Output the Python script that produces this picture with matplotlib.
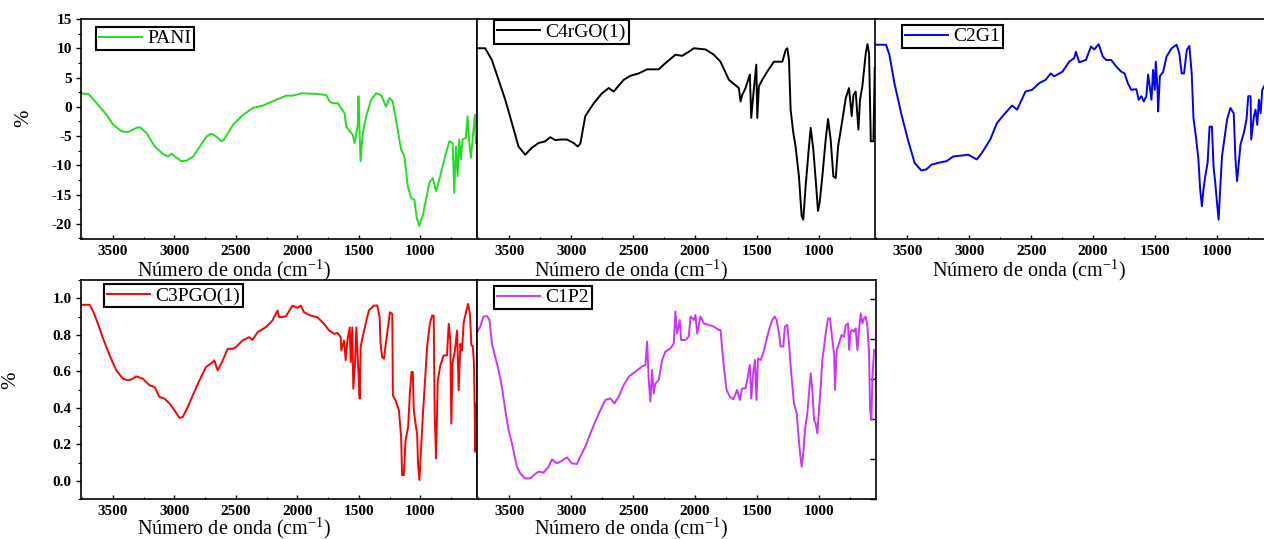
import numpy as np
import matplotlib
matplotlib.use('Agg')
import matplotlib.pyplot as plt
from matplotlib.ticker import MultipleLocator, FormatStrFormatter

plt.rcParams['font.family'] = ['Liberation Serif', 'DejaVu Serif']
plt.rcParams['axes.unicode_minus'] = False
plt.rcParams['mathtext.fontset'] = 'custom'
plt.rcParams['mathtext.rm'] = 'Liberation Serif'
plt.rcParams['mathtext.default'] = 'regular'

# ---- data (wavenumber cm-1, value) ----
pani_wn = [3760, 3700, 3632, 3551, 3497, 3430, 3376, 3308, 3281, 3227, 3159, 3092, 3051, 3024, 2997,
           2943, 2902, 2848, 2794, 2740, 2700, 2659, 2619, 2600, 2524, 2443, 2362, 2281, 2172, 2091,
           2037, 1969, 1847, 1766, 1739, 1712, 1671, 1617, 1604, 1550, 1536, 1509, 1504, 1487, 1469,
           1441, 1401, 1360, 1320, 1279, 1252, 1225, 1185, 1157, 1130, 1103, 1076, 1049, 1030, 1009,
           982, 955, 928, 900, 873, 846, 806, 765, 738, 725, 711, 698, 684, 671, 657, 630, 617, 603,
           589, 576, 557, 549]
pani_y = [2.27, 2.2, 0.6, -1.4, -3.1, -4.2, -4.3, -3.6, -3.5, -4.5, -6.8, -8.1, -8.5, -8.0, -8.5,
          -9.3, -9.2, -8.5, -6.8, -5.1, -4.6, -5.1, -5.9, -5.7, -3.1, -1.4, -0.2, 0.2, 1.2, 1.9,
          1.9, 2.3, 2.2, 2.0, 0.9, 0.6, 0.6, -1.1, -3.4, -4.8, -6.2, -3.1, 1.8, -9.3, -4.5,
          -1.6, 1.2, 2.3, 2.0, 0.0, 1.5, 0.9, -3.9, -7.3, -8.5, -13.6, -15.6, -15.9, -19.0, -20.4,
          -18.7, -15.9, -13.0, -12.2, -14.4, -12.4, -9.0, -5.9, -6.2, -14.7, -6.8, -11.9, -5.6, -9.0,
          -5.6, -5.3, -1.6, -6.2, -8.7, -5.6, -1.4, -6.2]

c4rgo_wn = [3756, 3694, 3640, 3586, 3532, 3478, 3425, 3371, 3317, 3263, 3209, 3169, 3128, 3088, 3034,
            2980, 2948, 2926, 2886, 2818, 2751, 2697, 2657, 2576, 2522, 2455, 2387, 2293, 2253, 2159,
            2105, 2051, 2010, 1916, 1849, 1795, 1727, 1647, 1633, 1620, 1593, 1558, 1547, 1525, 1506,
            1498, 1485, 1458, 1418, 1364, 1296, 1269, 1256, 1242, 1229, 1207, 1189, 1162, 1140, 1127,
            1108, 1081, 1067, 1046, 1027, 1008, 995, 973, 946, 927, 906, 884, 865, 846, 811, 784, 758,
            736, 722, 704, 682, 669, 650, 623, 609, 596, 582, 561, 550]
c4rgo_y = [10.0, 10.0, 8.0, 4.6, 1.2, -2.8, -6.8, -8.2, -7.0, -6.2, -5.9, -5.2, -5.7, -5.6, -5.6,
           -6.2, -6.8, -6.3, -1.6, 0.6, 2.3, 3.2, 2.6, 4.6, 5.3, 5.7, 6.4, 6.4, 7.2, 8.9,
           8.7, 9.4, 10.0, 9.8, 8.9, 7.7, 4.6, 3.2, 0.9, 2.0, 3.2, 5.5, -1.9, 3.2, 7.2,
           -1.9, 3.5, 4.6, 6.0, 7.7, 7.7, 9.7, 10.0, 8.0, -0.5, -4.5, -6.8, -11.9, -18.7, -19.3,
           -13.6, -6.8, -3.6, -7.3, -12.4, -17.8, -16.4, -11.9, -5.6, -2.1, -5.6, -11.9, -12.2, -6.8,
           -2.2, 1.5, 3.2, -1.6, 2.0, 2.6, -3.9, 1.2, 3.5, 9.1, 10.7, 9.1, -5.9, -5.9, 6.6]

c2g1_wn = [3752, 3671, 3644, 3603, 3549, 3495, 3440, 3386, 3345, 3305, 3251, 3183, 3129, 3088, 3007,
           2939, 2898, 2830, 2776, 2722, 2654, 2613, 2546, 2492, 2437, 2383, 2342, 2315, 2247, 2193,
           2153, 2139, 2112, 2058, 2017, 1990, 1955, 1922, 1895, 1854, 1814, 1773, 1746, 1719, 1692,
           1651, 1632, 1610, 1591, 1570, 1556, 1543, 1529, 1516, 1502, 1494, 1480, 1475, 1461, 1434,
           1407, 1366, 1326, 1304, 1285, 1266, 1244, 1223, 1204, 1190, 1169, 1150, 1136, 1122, 1109,
           1095, 1076, 1060, 1041, 1028, 1014, 1000, 987, 973, 960, 941, 919, 892, 865, 851, 838,
           824, 811, 784, 762, 748, 729, 724, 702, 689, 675, 662, 648, 635, 607, 589, 575]
c2g1_y = [10.6, 10.6, 8.9, 4.0, -1.1, -5.6, -9.6, -10.9, -10.7, -9.9, -9.6, -9.3, -8.5, -8.4, -8.2,
          -9.0, -7.9, -5.6, -2.8, -1.4, 0.2, -0.5, 2.6, 2.9, 4.0, 4.6, 5.7, 5.2, 6.0, 7.7,
          8.3, 9.4, 7.6, 8.0, 10.3, 9.8, 10.7, 8.6, 8.0, 8.0, 6.9, 6.0, 5.7, 4.0, 2.9,
          3.0, 1.2, 1.8, 0.9, 1.8, 5.5, 3.5, 1.2, 6.3, 2.9, 7.7, 2.9, -0.8, 5.2, 6.0,
          8.6, 10.0, 10.6, 9.1, 5.7, 5.7, 9.7, 10.4, 5.7, -1.9, -5.3, -9.0, -14.1, -17.0, -14.1,
          -11.9, -9.6, -3.4, -3.4, -10.2, -13.0, -16.4, -19.3, -13.6, -8.5, -5.6, -2.2, -0.2, -1.1, -9.0, -12.7,
          -9.6, -6.5, -4.5, -2.2, 1.8, 1.8, -5.6, -1.6, -0.5, -3.1, 1.2, -1.1, 2.9, 4.0, 4.0, 4.3]

c3pgo_wn = [3762, 3689, 3662, 3622, 3581, 3527, 3473, 3419, 3378, 3338, 3311, 3257, 3203, 3162, 3122,
            3081, 3040, 3000, 2959, 2932, 2892, 2851, 2797, 2743, 2689, 2676, 2649, 2613, 2567, 2527,
            2500, 2446, 2392, 2365, 2324, 2257, 2203, 2162, 2149, 2095, 2040, 2000, 1973, 1946, 1892,
            1838, 1784, 1743, 1702, 1675, 1648, 1643, 1621, 1608, 1594, 1575, 1567, 1554, 1546, 1532,
            1521, 1505, 1494, 1486, 1473, 1446, 1419, 1378, 1351, 1332, 1324, 1311, 1297, 1278, 1262,
            1248, 1229, 1224, 1202, 1175, 1157, 1149, 1135, 1121, 1100, 1086, 1073, 1062, 1054, 1040,
            1027, 1019, 1008, 994, 981, 965, 946, 924, 905, 892, 884, 873, 859, 838, 811, 784, 770,
            757, 749, 738, 721, 702, 689, 675, 662, 648, 629, 613, 597, 586, 575, 565, 554, 546]
c3pgo_y = [0.964, 0.964, 0.93, 0.86, 0.78, 0.687, 0.605, 0.559, 0.55, 0.559, 0.572, 0.559, 0.523, 0.514, 0.459,
           0.45, 0.423, 0.386, 0.344, 0.35, 0.404, 0.468, 0.55, 0.623, 0.65, 0.66, 0.605, 0.65, 0.723, 0.723,
           0.732, 0.769, 0.787, 0.772, 0.814, 0.842, 0.878, 0.933, 0.896, 0.9, 0.96, 0.947, 0.96, 0.923, 0.905,
           0.896, 0.86, 0.823, 0.805, 0.81, 0.787, 0.714, 0.769, 0.66, 0.769, 0.84, 0.65, 0.84, 0.505, 0.641,
           0.84, 0.605, 0.45, 0.732, 0.778, 0.86, 0.933, 0.96, 0.96, 0.896, 0.75, 0.678, 0.668, 0.769, 0.85,
           0.923, 0.914, 0.468, 0.44, 0.386, 0.24, 0.031, 0.031, 0.222, 0.295, 0.477, 0.596, 0.596, 0.386, 0.313,
           0.259, 0.086, 0.004, 0.186, 0.35, 0.523, 0.732, 0.86, 0.905, 0.905, 0.368, 0.122, 0.55, 0.632, 0.687, 0.687, 0.86,
           0.769, 0.313, 0.65, 0.705, 0.823, 0.495, 0.75, 0.714, 0.869, 0.923, 0.969, 0.914, 0.741, 0.741, 0.65, 0.158, 0.423]

c1p2_wn = [3756, 3734, 3707, 3680, 3659, 3640, 3613, 3586, 3559, 3532, 3505, 3478, 3438, 3411, 3371,
           3330, 3290, 3263, 3223, 3182, 3155, 3115, 3074, 3034, 2994, 2953, 2926, 2886, 2845, 2805,
           2764, 2724, 2684, 2651, 2616, 2576, 2535, 2482, 2428, 2401, 2387, 2374, 2361, 2347, 2334,
           2320, 2293, 2266, 2240, 2199, 2172, 2159, 2145, 2124, 2113, 2078, 2051, 2037, 2010, 1997,
           1983, 1956, 1929, 1889, 1849, 1808, 1795, 1768, 1746, 1720, 1692, 1661, 1639, 1620, 1593,
           1579, 1558, 1547, 1531, 1517, 1504, 1493, 1471, 1450, 1431, 1404, 1377, 1358, 1342, 1323,
           1310, 1288, 1275, 1256, 1242, 1224, 1202, 1180, 1167, 1153, 1140, 1127, 1113, 1094, 1081,
           1067, 1054, 1040, 1027, 1013, 1000, 986, 973, 946, 927, 911, 898, 878, 871, 857, 838, 819,
           798, 784, 766, 757, 744, 731, 717, 704, 690, 677, 663, 650, 636, 623, 609, 596, 588, 577, 569, 555]
c1p2_y = [0.837, 0.862, 0.912, 0.915, 0.895, 0.778, 0.712, 0.645, 0.562, 0.445, 0.345, 0.278, 0.162, 0.128, 0.103,
          0.103, 0.125, 0.137, 0.132, 0.162, 0.198, 0.178, 0.192, 0.208, 0.178, 0.175, 0.212, 0.262, 0.328, 0.387,
          0.445, 0.495, 0.503, 0.478, 0.512, 0.57, 0.612, 0.637, 0.662, 0.67, 0.787, 0.595, 0.487, 0.645, 0.528,
          0.578, 0.595, 0.695, 0.737, 0.753, 0.778, 0.937, 0.828, 0.895, 0.795, 0.795, 0.812, 0.912, 0.895, 0.92,
          0.828, 0.912, 0.878, 0.87, 0.862, 0.845, 0.845, 0.662, 0.545, 0.512, 0.498, 0.545, 0.495, 0.553, 0.553,
          0.595, 0.67, 0.503, 0.628, 0.695, 0.495, 0.703, 0.695, 0.728, 0.778, 0.845, 0.895, 0.912, 0.895, 0.828,
          0.762, 0.762, 0.862, 0.87, 0.778, 0.628, 0.478, 0.428, 0.328, 0.228, 0.162, 0.228, 0.345, 0.428, 0.528,
          0.628, 0.545, 0.395, 0.378, 0.328, 0.445, 0.562, 0.695, 0.828, 0.903, 0.903, 0.828, 0.72, 0.545, 0.745, 0.778, 0.82,
          0.812, 0.87, 0.878, 0.745, 0.837, 0.845, 0.837, 0.853, 0.745, 0.845, 0.928, 0.878, 0.903, 0.912, 0.862, 0.728, 0.445, 0.395, 0.612, 0.745]

xlabel = 'Número de onda (cm$^{-1}$)'

W, H = 1264, 539
fig = plt.figure(figsize=(W / 100, H / 100), dpi=100)


def add_ax(x0, x1, ytop, ybot):
    return fig.add_axes([x0 / W, (H - ybot) / H, (x1 - x0) / W, (ybot - ytop) / H])


ax1 = add_ax(81, 477, 19, 239)
ax2 = add_ax(477, 876, 19, 239)
ax3 = add_ax(875, 1274, 19, 239)
ax4 = add_ax(81, 477, 280, 499)
ax5 = add_ax(477, 876, 280, 499)

panels = [
    (ax1, pani_wn, pani_y, '#22dd22', 'PANI', (0.038, 0.964), -0.085),
    (ax2, c4rgo_wn, c4rgo_y, 'black', 'C4rGO(1)', (0.043, 0.995), -0.085),
    (ax3, c2g1_wn, c2g1_y, '#0000ff', 'C2G1', (0.068, 0.973), -0.085),
    (ax4, c3pgo_wn, c3pgo_y, '#ff0000', 'C3PGO(1)', (0.058, 0.982), -0.075),
    (ax5, c1p2_wn, c1p2_y, '#cc33ff', 'C1P2', (0.043, 0.973), -0.075),
]

for ax, wn, y, col, name, lpos, ly in panels:
    ax.plot(wn, y, color=col, lw=1.4, label=name)
    ax.set_xlim(3760, 540)
    ax.set_xticks([3500, 3000, 2500, 2000, 1500, 1000])
    ax.xaxis.set_minor_locator(MultipleLocator(250))
    ax.tick_params(axis='x', which='major', direction='in', length=3, width=1, pad=4, labelsize=11)
    ax.tick_params(axis='x', which='minor', direction='in', length=1.5, width=0.8)
    ax.tick_params(axis='x', top=False, which='both')
    for lab in ax.get_xticklabels():
        lab.set_fontweight('bold')
    for s in ax.spines.values():
        s.set_linewidth(1.2)
    ax.set_xlabel(xlabel, fontsize=14.5, labelpad=0)
    ax.xaxis.set_label_coords(0.387, ly)
    leg = ax.legend(loc='upper left', bbox_to_anchor=lpos, borderaxespad=0, fontsize=14,
                    fancybox=False, framealpha=1, edgecolor='black', handlelength=2.2,
                    handletextpad=0.3, borderpad=0.15)
    leg.get_frame().set_linewidth(1.5)

# top row share the same scale
for ax in (ax1, ax2, ax3):
    ax.set_ylim(-22.6, 15)
ax1.yaxis.set_major_locator(MultipleLocator(5))
ax1.yaxis.set_minor_locator(MultipleLocator(2.5))
ax1.tick_params(axis='y', which='major', direction='out', length=3.6, width=1, pad=3, labelsize=11)
ax1.tick_params(axis='y', which='minor', direction='out', length=2.2, width=0.8)
ax1.set_ylabel('%', fontsize=15)
ax1.yaxis.set_label_coords(-0.121, 0.55)
for ax in (ax2, ax3):
    ax.set_yticks([])

ax4.set_ylim(-0.1, 1.1)
ax4.yaxis.set_major_locator(MultipleLocator(0.2))
ax4.yaxis.set_minor_locator(MultipleLocator(0.1))
ax4.yaxis.set_major_formatter(FormatStrFormatter('%.1f'))
ax4.tick_params(axis='y', which='major', direction='out', length=3.6, width=1, pad=3, labelsize=11)
ax4.tick_params(axis='y', which='minor', direction='out', length=2.2, width=0.8)
ax4.set_ylabel('%', fontsize=15)
ax4.yaxis.set_label_coords(-0.154, 0.543)

for ax in (ax1, ax4):
    for lab in ax.get_yticklabels():
        lab.set_fontweight('bold')

ax5.set_ylim(0.0, 1.095)
ax5.yaxis.set_major_locator(MultipleLocator(0.2))
ax5.yaxis.tick_right()
ax5.tick_params(axis='y', which='major', direction='in', length=4, width=1, labelright=False)

fig.savefig('out.png', dpi=100)
